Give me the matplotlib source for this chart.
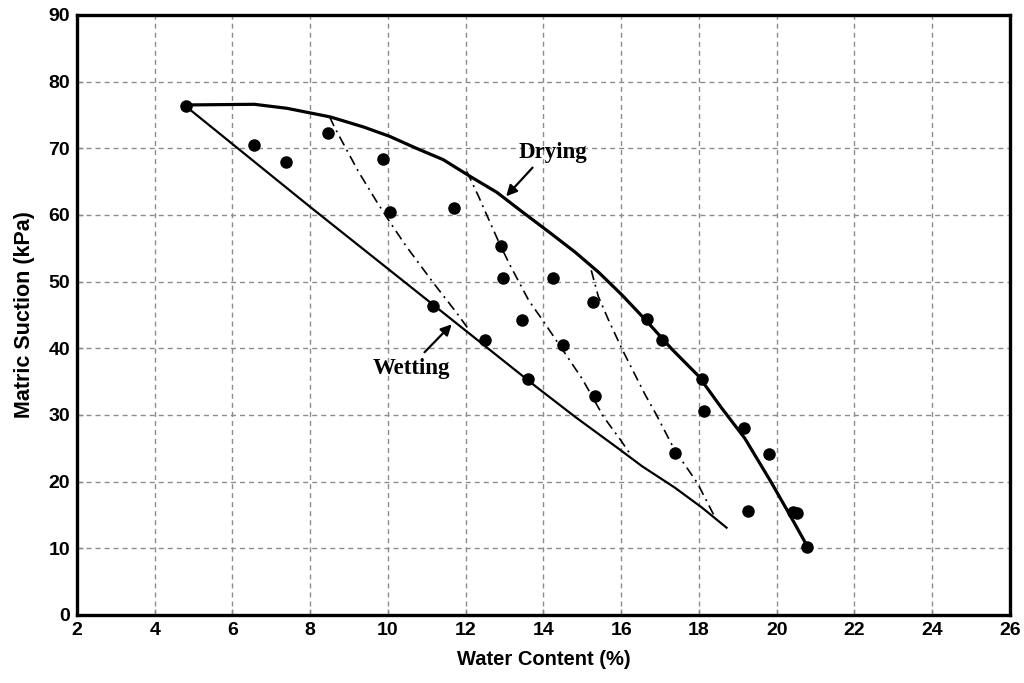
import matplotlib
matplotlib.use("Agg")
import matplotlib.pyplot as plt

# ---- data ----
pts_x = [4.8, 6.56, 7.37, 8.47, 9.87, 10.06, 11.69, 11.15, 12.49, 12.91, 12.97,
         14.25, 13.46, 14.50, 13.61, 15.32, 15.28, 16.66, 17.04, 18.07, 18.13,
         19.15, 19.80, 17.38, 19.27, 20.42, 20.52, 20.78]
pts_y = [76.3, 70.5, 67.9, 72.3, 68.4, 60.5, 61.0, 46.4, 41.3, 55.3, 50.5,
         50.5, 44.2, 40.5, 35.4, 32.8, 46.9, 44.4, 41.2, 35.4, 30.6,
         28.1, 24.2, 24.3, 15.6, 15.5, 15.3, 10.2]

drying_x = [4.81, 6.56, 7.4, 8.52, 9.37, 10.04, 10.73, 11.42, 12.11, 12.8,
            13.47, 14.22, 14.82, 15.42, 16.02, 16.62, 17.3, 17.98, 18.59,
            19.18, 19.84, 20.33, 20.78]
drying_y = [76.5, 76.6, 76.0, 74.7, 73.2, 71.8, 70.0, 68.3, 65.8, 63.4,
            60.4, 57.1, 54.4, 51.4, 48.0, 44.3, 39.9, 35.9, 31.0,
            26.5, 20.1, 15.1, 10.4]

wetting_x = [4.8, 8.0, 11.17, 13.82, 14.82, 15.92, 16.54, 17.38, 18.08, 18.71]
wetting_y = [76.3, 61.2, 46.5, 34.2, 29.7, 25.0, 22.3, 19.1, 16.1, 13.1]

scan1_x = [8.5, 8.63, 9.24, 9.70, 10.03, 10.47, 11.17, 11.77, 12.08]
scan1_y = [74.7, 73.1, 66.5, 62.1, 59.1, 55.3, 49.8, 45.3, 42.8]

scan2_x = [12.03, 12.33, 12.61, 12.87, 13.12, 13.62, 13.97, 14.49, 15.0,
           15.55, 15.99, 16.27]
scan2_y = [66.5, 62.8, 59.1, 55.7, 52.7, 47.2, 44.3, 39.8, 35.4,
           29.7, 26.2, 23.8]

scan3_x = [15.23, 15.41, 15.67, 16.03, 16.28, 16.62, 16.89, 17.38, 17.96, 18.40]
scan3_y = [51.7, 47.8, 44.3, 39.8, 36.9, 33.0, 30.2, 24.7, 19.8, 14.8]

x_ticks = list(range(2, 27, 2))
y_ticks = list(range(0, 91, 10))

x_label = "Water Content (%)"
y_label = "Matric Suction (kPa)"

# ---- figure ----
fig = plt.figure(figsize=(10.24, 6.83), dpi=100)
ax = fig.add_axes([0.0752, 0.0996, 0.911, 0.8785])

ax.set_xlim(2, 26)
ax.set_ylim(0, 90)
ax.set_xticks(x_ticks)
ax.set_yticks(y_ticks)

tick_font = dict(family=["Liberation Sans Narrow", "Liberation Sans", "DejaVu Sans"],
                 weight="bold", size=14)
ax.set_xticklabels([str(t) for t in x_ticks], **tick_font)
ax.set_yticklabels([str(t) for t in y_ticks], **tick_font)
ax.tick_params(direction="in", length=4, width=1, color="#888888", pad=5)

ax.grid(True, color="#8c8c8c", linestyle=(0, (3.6, 2.9)), linewidth=1.0)
ax.set_axisbelow(True)

for s in ax.spines.values():
    s.set_linewidth(2.4)
    s.set_color("black")

dashdot = (0, (6, 3, 1.2, 3))
ax.plot(scan1_x, scan1_y, color="black", lw=1.2, linestyle=dashdot, zorder=3)
ax.plot(scan2_x, scan2_y, color="black", lw=1.2, linestyle=dashdot, zorder=3)
ax.plot(scan3_x, scan3_y, color="black", lw=1.2, linestyle=dashdot, zorder=3)
ax.plot(wetting_x, wetting_y, color="black", lw=1.6, zorder=4,
        solid_joinstyle="round")
ax.plot(drying_x, drying_y, color="black", lw=2.3, zorder=4,
        solid_joinstyle="round")
ax.plot(pts_x, pts_y, "o", color="black", markersize=8, zorder=5)

serif = dict(family=["Liberation Serif", "DejaVu Serif"], weight="bold", size=16.5)
ax.text(14.24, 69.3, "Drying", ha="center", va="center", zorder=6, **serif)
ax.text(10.6, 37.0, "Wetting", ha="center", va="center", zorder=6, **serif)

arrow = dict(arrowstyle="-|>", color="black", lw=1.6, mutation_scale=16,
             shrinkA=0, shrinkB=0)
ax.annotate("", xy=(13.04, 62.8), xytext=(13.72, 67.1), arrowprops=arrow, zorder=6)
ax.annotate("", xy=(11.64, 43.6), xytext=(10.94, 39.4), arrowprops=arrow, zorder=6)

label_family = ["Liberation Sans", "DejaVu Sans"]
ax.set_xlabel(x_label, family=label_family, weight="bold", size=14.5, labelpad=8)
ax.set_ylabel(y_label, family=label_family, weight="bold", size=15.5, labelpad=10)

fig.savefig("out.png", dpi=100)
